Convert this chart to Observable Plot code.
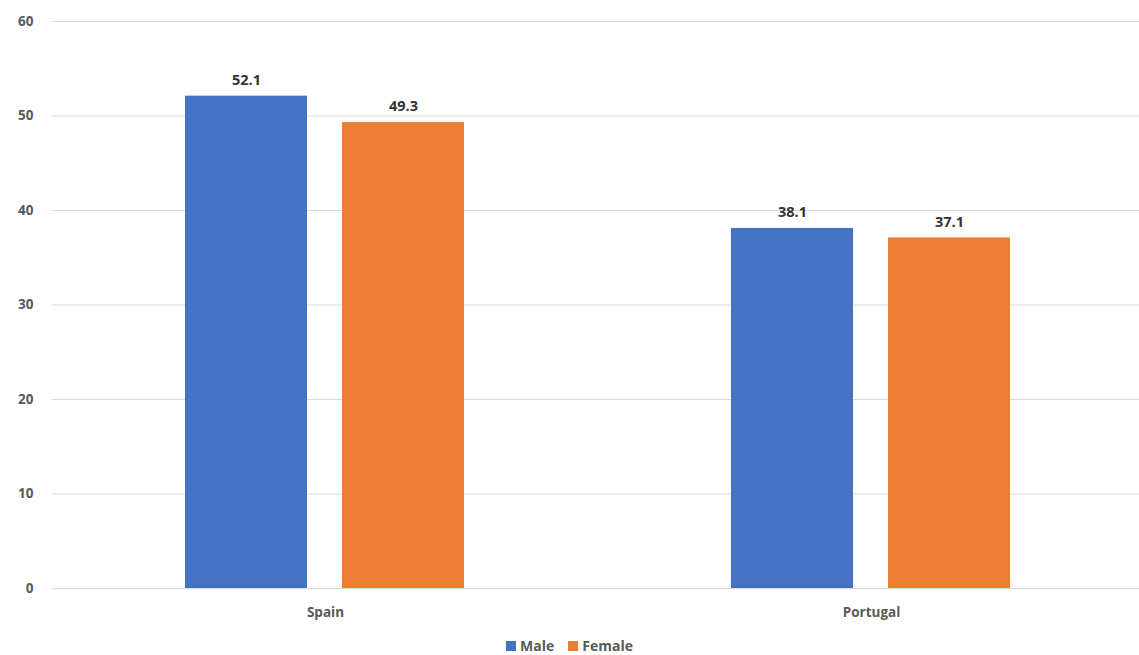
<!DOCTYPE html>
<html>
<head>
<meta charset="utf-8">
<script src="https://cdn.jsdelivr.net/npm/d3@7"></script>
<script src="https://cdn.jsdelivr.net/npm/@observablehq/plot@0.6"></script>
<style>
  html, body { margin: 0; padding: 0; background: #fff; }
  body { width: 1139px; height: 655px; overflow: hidden; font-family: "Open Sans", "Noto Sans", sans-serif; }
  #chart svg { overflow: hidden; }
  #legend { display: flex; justify-content: center; gap: 14px; font-weight: bold; font-size: 14px; color: #595959; margin-top: 6px; }
  #legend span.item { display: inline-flex; align-items: center; gap: 4px; }
  #legend span.sw { width: 10px; height: 10px; display: inline-block; }
</style>
</head>
<body>
<div id="chart"></div>
<div id="legend"></div>
<script>
const countries = ["Spain", "Portugal"];
const series = ["Male", "Female"];
const maleValues = [52.1, 38.1];
const femaleValues = [49.3, 37.1];
const yTicks = [0, 10, 20, 30, 40, 50, 60];
const colors = ["#4472C4", "#ED7D31"];

const data = [];
countries.forEach((c, i) => {
  data.push({country: c, sex: "Male", value: maleValues[i]});
  data.push({country: c, sex: "Female", value: femaleValues[i]});
});

const chart = Plot.plot({
  width: 1139,
  height: 630,
  marginTop: 21,
  marginBottom: 42,
  marginLeft: 52,
  marginRight: -5,
  style: {fontFamily: "'Open Sans', 'Noto Sans', sans-serif", fontSize: "13.5px", fontWeight: "bold", color: "#595959", background: "#fff"},
  fx: {domain: countries, padding: 0, label: null, axis: "bottom", tickSize: 0, tickPadding: 19},
  x: {domain: series, paddingInner: 0.22, paddingOuter: 0.844, axis: null},
  y: {domain: [0, 60], ticks: yTicks, tickSize: 0, tickPadding: 19, label: null, tickFormat: d => d},
  color: {domain: series, range: colors},
  marks: [
    Plot.ruleY(yTicks, {stroke: "#d9d9d9", strokeWidth: 1}),
    Plot.barY(data, {fx: "country", x: "sex", y: "value", fill: "sex"}),
    Plot.text(data, {fx: "country", x: "sex", y: "value", text: d => d.value.toFixed(1), dy: -16, fill: "#333", fontSize: 14.5, fontWeight: "bold"})
  ]
});
document.getElementById("chart").appendChild(chart);

const legend = document.getElementById("legend");
series.forEach((s, i) => {
  const item = document.createElement("span");
  item.className = "item";
  const sw = document.createElement("span");
  sw.className = "sw";
  sw.style.background = colors[i];
  item.appendChild(sw);
  item.appendChild(document.createTextNode(s));
  legend.appendChild(item);
});
</script>
</body>
</html>
